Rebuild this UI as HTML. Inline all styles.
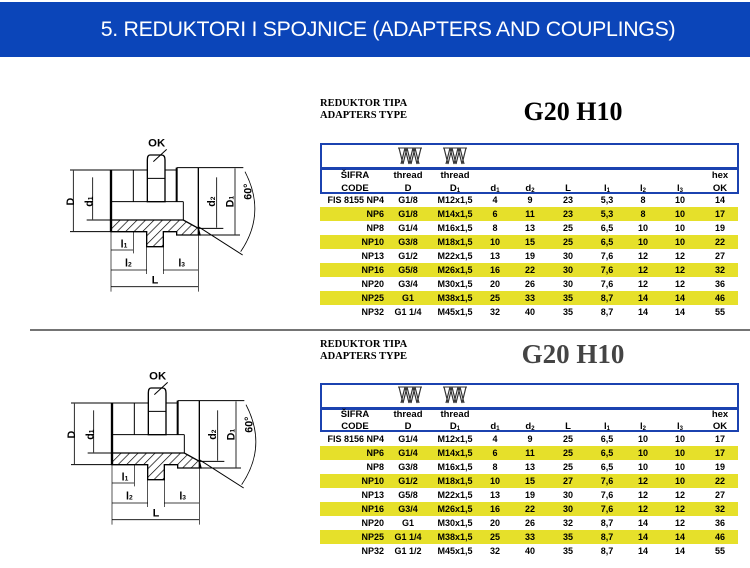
<!DOCTYPE html>
<html><head><meta charset="utf-8"><style>
*{margin:0;padding:0;box-sizing:border-box}
body{width:750px;height:568px;background:#fff;position:relative;overflow:hidden;font-family:"Liberation Sans",sans-serif}
.bar{position:absolute;left:0;top:2px;width:750px;height:55px;background:#0b45b9;color:#fff;font-size:21.3px;text-align:center;line-height:55px;letter-spacing:-0.3px;padding-left:26px}
.tt{position:absolute;left:320px;font-family:"Liberation Serif",serif;font-weight:bold;font-size:10.5px;line-height:12px}
.g{position:absolute;font-family:"Liberation Serif",serif;font-weight:bold;font-size:26px;width:200px;text-align:center;left:473px}
.box{position:absolute;left:320px;width:419px;border:2.5px solid #1b42b0}
.row{position:absolute;left:320px;width:418px;height:14px;font-weight:bold;font-size:9px;line-height:14px}
.y{background:#e6e02a}
.row span,.hd span{position:absolute;width:60px;text-align:center;top:0}
.row span.k{right:auto;left:0;width:64px;text-align:right}
.hd{position:absolute;left:320px;width:418px;font-weight:bold;font-size:9.5px;line-height:12px}
sub{font-size:6px;vertical-align:-1px}
.th{position:absolute;width:24px;height:18px}
</style></head><body>
<div class="bar">5. REDUKTORI I SPOJNICE (ADAPTERS AND COUPLINGS)</div>

<svg width="750" height="568" style="position:absolute;left:0;top:0">
<line x1="30" y1="330" x2="750" y2="330" stroke="#222" stroke-width="1.3"/>
</svg>

<svg width="220" height="190" viewBox="0 0 660 570" style="position:absolute;left:50px;top:120px">
<defs><pattern id="h" width="18" height="18" patternUnits="userSpaceOnUse" patternTransform="rotate(45)"><line x1="0" y1="0" x2="0" y2="18" stroke="#000" stroke-width="4"/></pattern></defs>
<g fill="none" stroke="#000" stroke-width="3">
<text x="320" y="80" font-size="34" font-weight="bold" fill="#000" stroke="none" text-anchor="middle" font-family="Liberation Sans">OK</text>
<line x1="350" y1="88" x2="310" y2="125"/>
<path d="M292 245 L292 120 Q292 105 300 105 L335 105 Q345 105 345 120 L345 245 Z" stroke-width="4"/>
<line x1="292" y1="175" x2="345" y2="175"/>
<line x1="60" y1="150" x2="292" y2="150"/><line x1="345" y1="150" x2="380" y2="150"/>
<line x1="380" y1="143" x2="580" y2="143"/>
<line x1="60" y1="335" x2="183" y2="335"/>
<line x1="183" y1="150" x2="183" y2="335" stroke-width="7"/>
<line x1="250" y1="150" x2="250" y2="245" stroke-width="3"/>
<line x1="380" y1="143" x2="380" y2="245" stroke-width="6"/>
<line x1="445" y1="143" x2="445" y2="345" stroke-width="4"/>
<line x1="183" y1="245" x2="292" y2="245"/><line x1="345" y1="245" x2="400" y2="245"/>
<line x1="400" y1="245" x2="400" y2="300"/>
<path d="M183 300 L400 300 L445 325 L450 345 L380 345 L380 335 L340 335 L340 380 L290 380 L290 335 L183 335 Z" fill="url(#h)" stroke-width="4"/>
<line x1="110" y1="300" x2="183" y2="300"/>
<line x1="445" y1="325" x2="520" y2="325"/>
<line x1="450" y1="345" x2="570" y2="345"/>
<line x1="445" y1="320" x2="578" y2="405"/>
<path d="M585 155 Q650 280 572 395" stroke-width="2.5"/>
<line x1="70" y1="152" x2="70" y2="333" stroke-width="2.5"/>
<line x1="128" y1="172" x2="128" y2="298" stroke-width="2.5"/>
<line x1="500" y1="172" x2="500" y2="323" stroke-width="2.5"/>
<line x1="555" y1="145" x2="555" y2="343" stroke-width="2.5"/>
<line x1="183" y1="335" x2="183" y2="515" stroke-width="2"/>
<line x1="445" y1="345" x2="445" y2="515" stroke-width="2"/>
<line x1="250" y1="335" x2="250" y2="400" stroke-width="2"/>
<line x1="290" y1="380" x2="290" y2="462" stroke-width="2"/>
<line x1="340" y1="380" x2="340" y2="462" stroke-width="2"/>
<line x1="183" y1="390" x2="250" y2="390" stroke-width="2.5"/>
<line x1="183" y1="450" x2="290" y2="450" stroke-width="2.5"/>
<line x1="340" y1="450" x2="445" y2="450" stroke-width="2.5"/>
<line x1="183" y1="500" x2="445" y2="500" stroke-width="2.5"/>
</g>
<g font-family="Liberation Sans" font-weight="bold" font-size="32" fill="#000">
<text x="222" y="382" text-anchor="middle">l<tspan font-size="20">1</tspan></text>
<text x="235" y="440" text-anchor="middle">l<tspan font-size="20">2</tspan></text>
<text x="395" y="440" text-anchor="middle">l<tspan font-size="20">3</tspan></text>
<text x="315" y="490" text-anchor="middle">L</text>
<text transform="translate(72,245) rotate(-90)" text-anchor="middle">D</text>
<text transform="translate(128,245) rotate(-90)" text-anchor="middle">d<tspan font-size="20">1</tspan></text>
<text transform="translate(495,245) rotate(-90)" text-anchor="middle">d<tspan font-size="20">2</tspan></text>
<text transform="translate(550,245) rotate(-90)" text-anchor="middle">D<tspan font-size="20">1</tspan></text>
<text transform="translate(605,215) rotate(-90)" text-anchor="middle">60°</text>
</g>
</svg>
<svg width="220" height="190" viewBox="0 0 660 570" style="position:absolute;left:51px;top:353px">
<g fill="none" stroke="#000" stroke-width="3">
<text x="320" y="80" font-size="34" font-weight="bold" fill="#000" stroke="none" text-anchor="middle" font-family="Liberation Sans">OK</text>
<line x1="350" y1="88" x2="310" y2="125"/>
<path d="M292 245 L292 120 Q292 105 300 105 L335 105 Q345 105 345 120 L345 245 Z" stroke-width="4"/>
<line x1="292" y1="175" x2="345" y2="175"/>
<line x1="60" y1="150" x2="292" y2="150"/><line x1="345" y1="150" x2="380" y2="150"/>
<line x1="380" y1="143" x2="580" y2="143"/>
<line x1="60" y1="335" x2="183" y2="335"/>
<line x1="183" y1="150" x2="183" y2="335" stroke-width="7"/>
<line x1="250" y1="150" x2="250" y2="245" stroke-width="3"/>
<line x1="380" y1="143" x2="380" y2="245" stroke-width="6"/>
<line x1="445" y1="143" x2="445" y2="345" stroke-width="4"/>
<line x1="183" y1="245" x2="292" y2="245"/><line x1="345" y1="245" x2="400" y2="245"/>
<line x1="400" y1="245" x2="400" y2="300"/>
<path d="M183 300 L400 300 L445 325 L450 345 L380 345 L380 335 L340 335 L340 380 L290 380 L290 335 L183 335 Z" fill="url(#h)" stroke-width="4"/>
<line x1="110" y1="300" x2="183" y2="300"/>
<line x1="445" y1="325" x2="520" y2="325"/>
<line x1="450" y1="345" x2="570" y2="345"/>
<line x1="445" y1="320" x2="578" y2="405"/>
<path d="M585 155 Q650 280 572 395" stroke-width="2.5"/>
<line x1="70" y1="152" x2="70" y2="333" stroke-width="2.5"/>
<line x1="128" y1="172" x2="128" y2="298" stroke-width="2.5"/>
<line x1="500" y1="172" x2="500" y2="323" stroke-width="2.5"/>
<line x1="555" y1="145" x2="555" y2="343" stroke-width="2.5"/>
<line x1="183" y1="335" x2="183" y2="515" stroke-width="2"/>
<line x1="445" y1="345" x2="445" y2="515" stroke-width="2"/>
<line x1="250" y1="335" x2="250" y2="400" stroke-width="2"/>
<line x1="290" y1="380" x2="290" y2="462" stroke-width="2"/>
<line x1="340" y1="380" x2="340" y2="462" stroke-width="2"/>
<line x1="183" y1="390" x2="250" y2="390" stroke-width="2.5"/>
<line x1="183" y1="450" x2="290" y2="450" stroke-width="2.5"/>
<line x1="340" y1="450" x2="445" y2="450" stroke-width="2.5"/>
<line x1="183" y1="500" x2="445" y2="500" stroke-width="2.5"/>
</g>
<g font-family="Liberation Sans" font-weight="bold" font-size="32" fill="#000">
<text x="222" y="382" text-anchor="middle">l<tspan font-size="20">1</tspan></text>
<text x="235" y="440" text-anchor="middle">l<tspan font-size="20">2</tspan></text>
<text x="395" y="440" text-anchor="middle">l<tspan font-size="20">3</tspan></text>
<text x="315" y="490" text-anchor="middle">L</text>
<text transform="translate(72,245) rotate(-90)" text-anchor="middle">D</text>
<text transform="translate(128,245) rotate(-90)" text-anchor="middle">d<tspan font-size="20">1</tspan></text>
<text transform="translate(495,245) rotate(-90)" text-anchor="middle">d<tspan font-size="20">2</tspan></text>
<text transform="translate(550,245) rotate(-90)" text-anchor="middle">D<tspan font-size="20">1</tspan></text>
<text transform="translate(605,215) rotate(-90)" text-anchor="middle">60°</text>
</g>
</svg>

<!-- TABLE 1 -->
<div class="tt" style="top:98px">REDUKTOR TIPA<br>ADAPTERS TYPE</div>
<div class="g" style="top:97px">G20 H10</div>
<div class="box" style="top:143px;height:27px"></div>
<div class="box" style="top:167px;height:27px"></div>
<svg class="th" style="left:398px;top:147px" viewBox="0 0 24 18"><path d="M1 1 L5 17 L9 1 L13 17 L17 1 L21 17 M3 17 L7 1 L11 17 L15 1 L19 17 L23 1" fill="none" stroke="#333" stroke-width="1.2"/><line x1="0" y1="1" x2="24" y2="1" stroke="#333"/></svg>
<svg class="th" style="left:443px;top:147px" viewBox="0 0 24 18"><path d="M1 1 L5 17 L9 1 L13 17 L17 1 L21 17 M3 17 L7 1 L11 17 L15 1 L19 17 L23 1" fill="none" stroke="#333" stroke-width="1.2"/><line x1="0" y1="1" x2="24" y2="1" stroke="#333"/></svg>
<div class="hd" style="top:170px"><span style="left:5px">ŠIFRA</span><span style="left:58px">thread</span><span style="left:105px">thread</span><span style="left:370px">hex</span></div>
<div class="hd" style="top:183px"><span style="left:5px">CODE</span><span style="left:58px">D</span><span style="left:105px">D<sub>1</sub></span><span style="left:145px">d<sub>1</sub></span><span style="left:180px">d<sub>2</sub></span><span style="left:218px">L</span><span style="left:257px">l<sub>1</sub></span><span style="left:293px">l<sub>2</sub></span><span style="left:330px">l<sub>3</sub></span><span style="left:370px">OK</span></div>

<div class="row" style="top:193px"><span class="k" style="left:-6px;width:70px">FIS 8155 NP4</span><span style="left:58px">G1/8</span><span style="left:105px">M12x1,5</span><span style="left:145px">4</span><span style="left:180px">9</span><span style="left:218px">23</span><span style="left:257px">5,3</span><span style="left:293px">8</span><span style="left:330px">10</span><span style="left:370px">14</span></div>
<div class="row y" style="top:207px"><span class="k">NP6</span><span style="left:58px">G1/8</span><span style="left:105px">M14x1,5</span><span style="left:145px">6</span><span style="left:180px">11</span><span style="left:218px">23</span><span style="left:257px">5,3</span><span style="left:293px">8</span><span style="left:330px">10</span><span style="left:370px">17</span></div>
<div class="row" style="top:221px"><span class="k">NP8</span><span style="left:58px">G1/4</span><span style="left:105px">M16x1,5</span><span style="left:145px">8</span><span style="left:180px">13</span><span style="left:218px">25</span><span style="left:257px">6,5</span><span style="left:293px">10</span><span style="left:330px">10</span><span style="left:370px">19</span></div>
<div class="row y" style="top:235px"><span class="k">NP10</span><span style="left:58px">G3/8</span><span style="left:105px">M18x1,5</span><span style="left:145px">10</span><span style="left:180px">15</span><span style="left:218px">25</span><span style="left:257px">6,5</span><span style="left:293px">10</span><span style="left:330px">10</span><span style="left:370px">22</span></div>
<div class="row" style="top:249px"><span class="k">NP13</span><span style="left:58px">G1/2</span><span style="left:105px">M22x1,5</span><span style="left:145px">13</span><span style="left:180px">19</span><span style="left:218px">30</span><span style="left:257px">7,6</span><span style="left:293px">12</span><span style="left:330px">12</span><span style="left:370px">27</span></div>
<div class="row y" style="top:263px"><span class="k">NP16</span><span style="left:58px">G5/8</span><span style="left:105px">M26x1,5</span><span style="left:145px">16</span><span style="left:180px">22</span><span style="left:218px">30</span><span style="left:257px">7,6</span><span style="left:293px">12</span><span style="left:330px">12</span><span style="left:370px">32</span></div>
<div class="row" style="top:277px"><span class="k">NP20</span><span style="left:58px">G3/4</span><span style="left:105px">M30x1,5</span><span style="left:145px">20</span><span style="left:180px">26</span><span style="left:218px">30</span><span style="left:257px">7,6</span><span style="left:293px">12</span><span style="left:330px">12</span><span style="left:370px">36</span></div>
<div class="row y" style="top:291px"><span class="k">NP25</span><span style="left:58px">G1</span><span style="left:105px">M38x1,5</span><span style="left:145px">25</span><span style="left:180px">33</span><span style="left:218px">35</span><span style="left:257px">8,7</span><span style="left:293px">14</span><span style="left:330px">14</span><span style="left:370px">46</span></div>
<div class="row" style="top:305px"><span class="k">NP32</span><span style="left:58px">G1 1/4</span><span style="left:105px">M45x1,5</span><span style="left:145px">32</span><span style="left:180px">40</span><span style="left:218px">35</span><span style="left:257px">8,7</span><span style="left:293px">14</span><span style="left:330px">14</span><span style="left:370px">55</span></div>

<!-- TABLE 2 -->
<div class="tt" style="top:339px">REDUKTOR TIPA<br>ADAPTERS TYPE</div>
<div class="g" style="top:339px;color:#444;font-size:27px">G20 H10</div>
<div class="box" style="top:383px;height:27px"></div>
<div class="box" style="top:407px;height:25px"></div>
<svg class="th" style="left:398px;top:386px" viewBox="0 0 24 18"><path d="M1 1 L5 17 L9 1 L13 17 L17 1 L21 17 M3 17 L7 1 L11 17 L15 1 L19 17 L23 1" fill="none" stroke="#333" stroke-width="1.2"/><line x1="0" y1="1" x2="24" y2="1" stroke="#333"/></svg>
<svg class="th" style="left:443px;top:386px" viewBox="0 0 24 18"><path d="M1 1 L5 17 L9 1 L13 17 L17 1 L21 17 M3 17 L7 1 L11 17 L15 1 L19 17 L23 1" fill="none" stroke="#333" stroke-width="1.2"/><line x1="0" y1="1" x2="24" y2="1" stroke="#333"/></svg>
<div class="hd" style="top:409px"><span style="left:5px">ŠIFRA</span><span style="left:58px">thread</span><span style="left:105px">thread</span><span style="left:370px">hex</span></div>
<div class="hd" style="top:421px"><span style="left:5px">CODE</span><span style="left:58px">D</span><span style="left:105px">D<sub>1</sub></span><span style="left:145px">d<sub>1</sub></span><span style="left:180px">d<sub>2</sub></span><span style="left:218px">L</span><span style="left:257px">l<sub>1</sub></span><span style="left:293px">l<sub>2</sub></span><span style="left:330px">l<sub>3</sub></span><span style="left:370px">OK</span></div>

<div class="row" style="top:432px"><span class="k" style="left:-6px;width:70px">FIS 8156 NP4</span><span style="left:58px">G1/4</span><span style="left:105px">M12x1,5</span><span style="left:145px">4</span><span style="left:180px">9</span><span style="left:218px">25</span><span style="left:257px">6,5</span><span style="left:293px">10</span><span style="left:330px">10</span><span style="left:370px">17</span></div>
<div class="row y" style="top:446px"><span class="k">NP6</span><span style="left:58px">G1/4</span><span style="left:105px">M14x1,5</span><span style="left:145px">6</span><span style="left:180px">11</span><span style="left:218px">25</span><span style="left:257px">6,5</span><span style="left:293px">10</span><span style="left:330px">10</span><span style="left:370px">17</span></div>
<div class="row" style="top:460px"><span class="k">NP8</span><span style="left:58px">G3/8</span><span style="left:105px">M16x1,5</span><span style="left:145px">8</span><span style="left:180px">13</span><span style="left:218px">25</span><span style="left:257px">6,5</span><span style="left:293px">10</span><span style="left:330px">10</span><span style="left:370px">19</span></div>
<div class="row y" style="top:474px"><span class="k">NP10</span><span style="left:58px">G1/2</span><span style="left:105px">M18x1,5</span><span style="left:145px">10</span><span style="left:180px">15</span><span style="left:218px">27</span><span style="left:257px">7,6</span><span style="left:293px">12</span><span style="left:330px">10</span><span style="left:370px">22</span></div>
<div class="row" style="top:488px"><span class="k">NP13</span><span style="left:58px">G5/8</span><span style="left:105px">M22x1,5</span><span style="left:145px">13</span><span style="left:180px">19</span><span style="left:218px">30</span><span style="left:257px">7,6</span><span style="left:293px">12</span><span style="left:330px">12</span><span style="left:370px">27</span></div>
<div class="row y" style="top:502px"><span class="k">NP16</span><span style="left:58px">G3/4</span><span style="left:105px">M26x1,5</span><span style="left:145px">16</span><span style="left:180px">22</span><span style="left:218px">30</span><span style="left:257px">7,6</span><span style="left:293px">12</span><span style="left:330px">12</span><span style="left:370px">32</span></div>
<div class="row" style="top:516px"><span class="k">NP20</span><span style="left:58px">G1</span><span style="left:105px">M30x1,5</span><span style="left:145px">20</span><span style="left:180px">26</span><span style="left:218px">32</span><span style="left:257px">8,7</span><span style="left:293px">14</span><span style="left:330px">12</span><span style="left:370px">36</span></div>
<div class="row y" style="top:530px"><span class="k">NP25</span><span style="left:58px">G1 1/4</span><span style="left:105px">M38x1,5</span><span style="left:145px">25</span><span style="left:180px">33</span><span style="left:218px">35</span><span style="left:257px">8,7</span><span style="left:293px">14</span><span style="left:330px">14</span><span style="left:370px">46</span></div>
<div class="row" style="top:544px"><span class="k">NP32</span><span style="left:58px">G1 1/2</span><span style="left:105px">M45x1,5</span><span style="left:145px">32</span><span style="left:180px">40</span><span style="left:218px">35</span><span style="left:257px">8,7</span><span style="left:293px">14</span><span style="left:330px">14</span><span style="left:370px">55</span></div>
</body></html>
